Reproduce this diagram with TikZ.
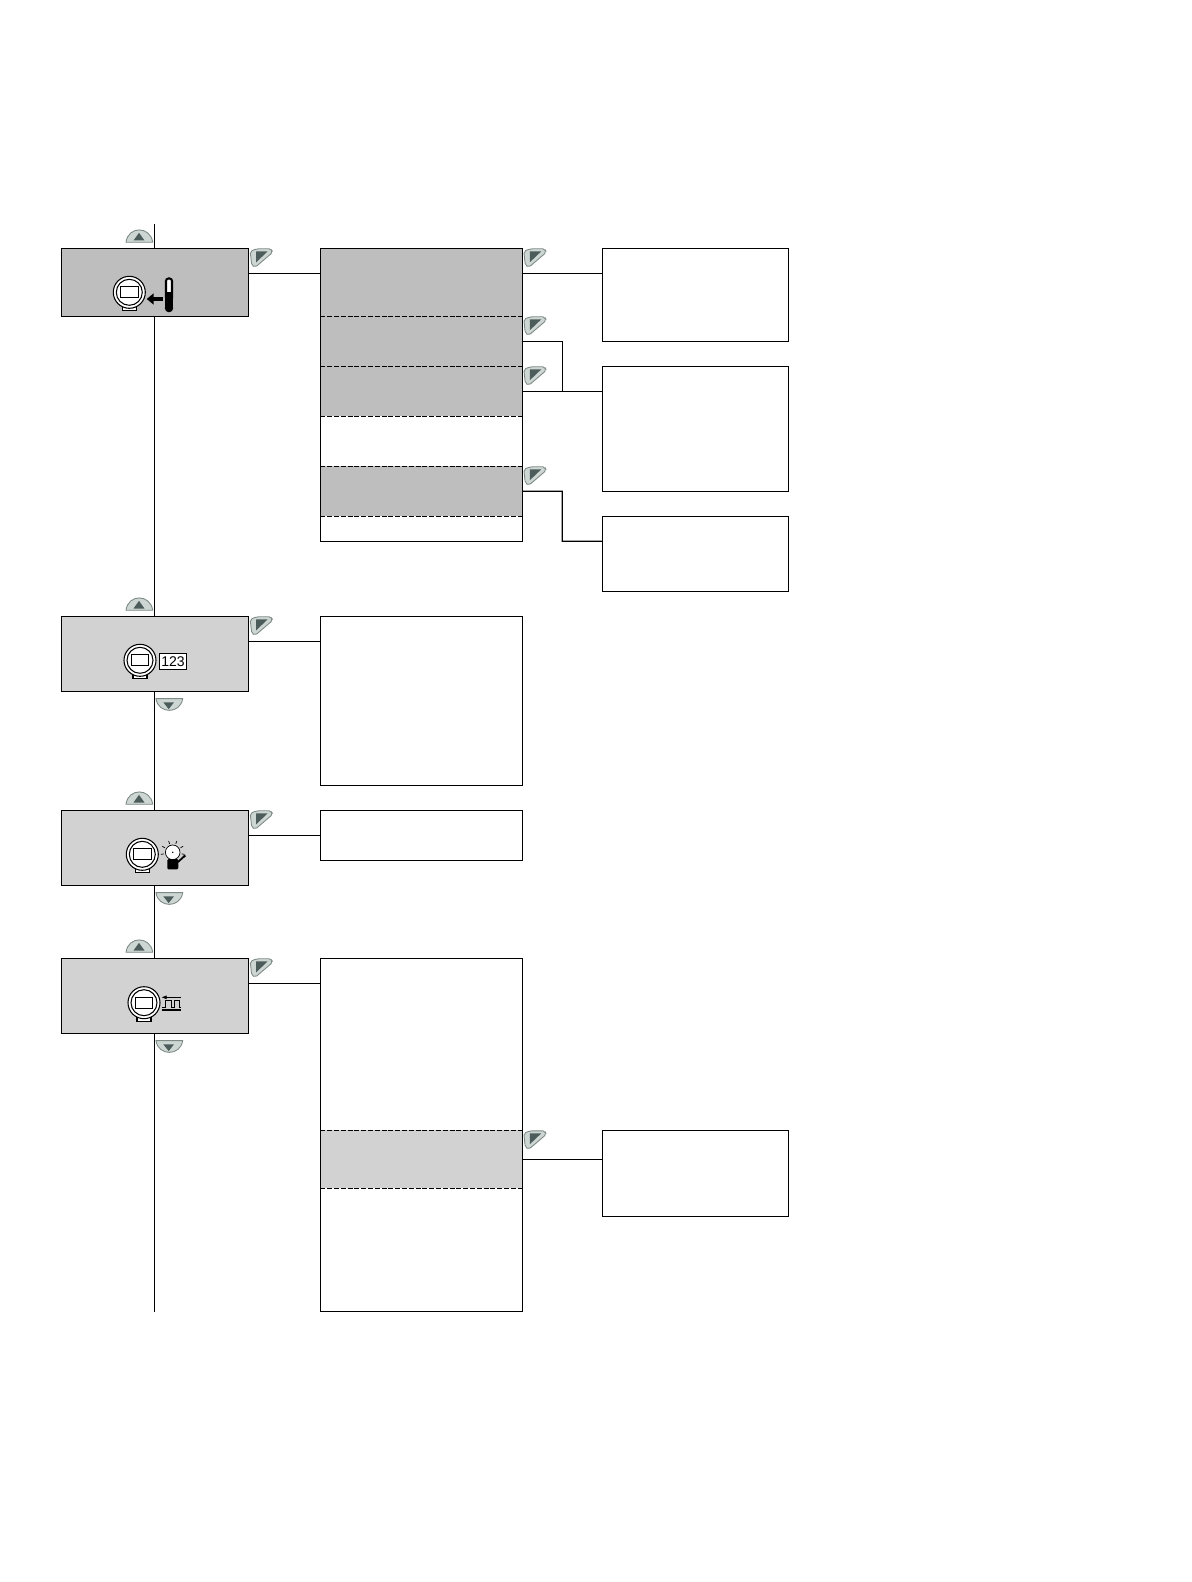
\documentclass[tikz,border=0pt]{standalone}
\usepackage{fontspec}
\usepackage{xcolor}
\setmainfont{Liberation Sans}
\usetikzlibrary{arrows.meta}
\definecolor{paneldark}{RGB}{190, 190, 190}
\definecolor{panellight}{RGB}{210, 210, 210}
\definecolor{keyshell}{RGB}{205, 214, 210}
\definecolor{keyedge}{RGB}{125, 138, 134}
\definecolor{keymark}{RGB}{76, 92, 90}

\tikzset{
    panel/.style n args={2}{draw=none, anchor=north west, inner sep=0pt, outer sep=0pt,
        minimum width=#1cm, minimum height=#2cm},
    box/.style={panel={#1}, draw=black},
    keyup/.pic={
        \fill[keyshell, draw=keyedge, line width=0.25pt]
            (-.29,.06) .. controls (-.27,.225) and (-.045,.225) .. (-.023,.06) -- cycle;
        \fill[keymark] (-.215,.078) -- (-.105,.078) -- (-.16,.155) -- cycle;
    },
    keydown/.pic={
        \fill[keyshell, draw=keyedge, line width=0.25pt]
            (.01,-.073) .. controls (.03,-.23) and (.255,-.23) .. (.277,-.073) -- cycle;
        \fill[keymark] (.083,-.11) -- (.19,-.11) -- (.137,-.178) -- cycle;
    },
    keyenter/.pic={
        \fill[keyshell, draw=keyedge, line width=0.25pt, rounded corners=.02cm]
            (.015,-.03) -- (.08,-.005) -- (.225,-.005) -- (.24,-.04) -- (.065,-.19) -- (.03,-.17) -- cycle;
        \fill[keymark] (.075,-.03) -- (.19,-.03) -- (.075,-.14) -- cycle;
    },
    device/.pic={
        \draw[fill=white, line width=0.3pt] (-.07,-.14) rectangle (.07,-.185);
        \draw[fill=white, line width=0.3pt] (0,0) circle (.16);
        \draw[line width=0.3pt] (0,0) circle (.13);
        \draw[line width=0.3pt] (-.088,-.054) rectangle (.088,.054);
    }
}

\begin{document}
\begin{tikzpicture}[
    wire/.style={line width=0.32pt},
    dashrule/.style={line width=0.3pt, dash pattern=on .05cm off .018cm}
]
    \useasboundingbox (0,0) rectangle (11.91,-15.82);

    % ==========================================
    % COORDINATES
    % ==========================================
    % Spine
    \coordinate (spine_top) at (1.543,-2.24);
    \coordinate (spine_bot) at (1.543,-13.12);

    % Bends between menu and detail boxes
    \coordinate (join_pair) at (5.623,-3.913);
    \coordinate (bend_low)  at (5.623,-4.913);

    % ==========================================
    % SPINE (behind the boxes)
    % ==========================================
    \draw[wire] (spine_top) -- (spine_bot);

    % ==========================================
    % LEFT COLUMN
    % ==========================================
    \node[box={1.874}{.68}, fill=paneldark]  (temp)  at (.613,-2.483) {};
    \node[box={1.874}{.75}, fill=panellight] (count) at (.613,-6.163) {};
    \node[box={1.874}{.75}, fill=panellight] (alarm) at (.613,-8.103) {};
    \node[box={1.874}{.75}, fill=panellight] (pulse) at (.613,-9.583) {};

    % ==========================================
    % MIDDLE COLUMN
    % ==========================================
    % Temperature rows
    \node[panel={2.02}{.68}, fill=paneldark] (row_a) at (3.203,-2.483) {};
    \node[panel={2.02}{.50}, fill=paneldark] (row_b) at (3.203,-3.163) {};
    \node[panel={2.02}{.50}, fill=paneldark] (row_c) at (3.203,-3.663) {};
    \node[panel={2.02}{.50}]                 (row_d) at (3.203,-4.163) {};
    \node[panel={2.02}{.50}, fill=paneldark] (row_e) at (3.203,-4.663) {};
    \node[box={2.02}{2.93}] (temp_menu) at (3.203,-2.483) {};
    \draw[dashrule] (row_a.south west) -- (row_a.south east);
    \draw[dashrule] (row_b.south west) -- (row_b.south east);
    \draw[dashrule] (row_c.south west) -- (row_c.south east);
    \draw[dashrule] (row_d.south west) -- (row_d.south east);
    \draw[dashrule] (row_e.south west) -- (row_e.south east);

    \node[box={2.02}{1.69}] (count_menu) at (3.203,-6.163) {};
    \node[box={2.02}{.50}]  (alarm_menu) at (3.203,-8.103) {};

    % Pulse rows
    \node[panel={2.02}{.58}, fill=panellight] (row_f) at (3.203,-11.303) {};
    \node[box={2.02}{3.53}] (pulse_menu) at (3.203,-9.583) {};
    \draw[dashrule] (row_f.north west) -- (row_f.north east);
    \draw[dashrule] (row_f.south west) -- (row_f.south east);

    % ==========================================
    % RIGHT COLUMN
    % ==========================================
    \node[box={1.862}{.93}]  (detail_a) at (6.023,-2.483) {};
    \node[box={1.862}{1.25}] (detail_b) at (6.023,-3.663) {};
    \node[box={1.862}{.75}]  (detail_c) at (6.023,-5.163) {};
    \node[box={1.862}{.862}] (detail_d) at (6.023,-11.303) {};

    % ==========================================
    % CONNECTORS
    % ==========================================
    \draw[wire] ([yshift=-.25cm]temp.north east)  -- ([yshift=-.25cm]temp_menu.north west);
    \draw[wire] ([yshift=-.25cm]count.north east) -- ([yshift=-.25cm]count_menu.north west);
    \draw[wire] ([yshift=-.25cm]alarm.north east) -- ([yshift=-.25cm]alarm_menu.north west);
    \draw[wire] ([yshift=-.25cm]pulse.north east) -- ([yshift=-.25cm]pulse_menu.north west);

    \draw[wire] ([yshift=-.25cm]row_a.north east) -- ([yshift=-.25cm]detail_a.north west);
    \draw[wire] ([yshift=-.25cm]row_b.north east) -| (join_pair);
    \draw[wire] ([yshift=-.25cm]row_c.north east) -- ([yshift=-.25cm]detail_b.north west);
    \draw[wire] ([yshift=-.25cm]row_e.north east) -- (bend_low) |- ([yshift=-.25cm]detail_c.north west);
    \draw[wire] ([yshift=-.29cm]row_f.north east) -- ([yshift=-.29cm]detail_d.north west);

    % ==========================================
    % KEYS
    % ==========================================
    \pic at (temp.north)  {keyup};
    \pic at (count.north) {keyup};
    \pic at (alarm.north) {keyup};
    \pic at (pulse.north) {keyup};

    \pic at (count.south) {keydown};
    \pic at (alarm.south) {keydown};
    \pic at (pulse.south) {keydown};

    \pic at (temp.north east)  {keyenter};
    \pic at (count.north east) {keyenter};
    \pic at (alarm.north east) {keyenter};
    \pic at (pulse.north east) {keyenter};
    \pic at (row_a.north east) {keyenter};
    \pic at (row_b.north east) {keyenter};
    \pic at (row_c.north east) {keyenter};
    \pic at (row_e.north east) {keyenter};
    \pic at (row_f.north east) {keyenter};

    % ==========================================
    % ICONS
    % ==========================================
    \pic at (1.293,-2.923) {device};
    \pic at (1.40,-6.603)  {device};
    \pic at (1.423,-8.543) {device};
    \pic at (1.44,-10.027) {device};

    % Thermometer and arrow
    \draw[line width=0.6pt, fill=white, rounded corners=.025cm] (1.66,-3.0) rectangle (1.72,-2.785);
    \fill[black] (1.652,-2.92) rectangle (1.728,-3.08);
    \fill[black] (1.69,-3.081) circle (.042);
    \draw[line width=.95pt, -{Triangle[length=.07cm,width=.11cm]}] (1.633,-2.99) -- (1.467,-2.99);

    % Number tag
    \node[draw=black, fill=white, line width=0.3pt, inner sep=0pt, outer sep=0pt,
        minimum width=.273cm, minimum height=.16cm, font=\fontsize{4}{4}\selectfont]
        (count_tag) at (1.73,-6.613) {123};

    % Bell
    \draw[line width=0.2pt, fill=white] (1.727,-8.523) circle (.073);
    \fill (1.727,-8.523) circle (.008);
    \foreach \ang in {-10,30,70,110,150,190}
        \draw[line width=0.2pt] (1.727,-8.523) ++(\ang:.09) -- ++(\ang:.03);
    \fill[black, rounded corners=.012cm] (1.673,-8.59) rectangle (1.783,-8.693);
    \draw[line width=.5pt] (1.78,-8.62) -- (1.84,-8.565);
    \fill (1.845,-8.56) circle (.015);

    % Pulse train
    \draw[line width=0.25pt, -{Triangle[length=.05cm,width=.035cm]}] (1.81,-9.973) -- (1.617,-9.973);
    \draw[line width=0.28pt] (1.617,-10.073) -- (1.65,-10.073) -- (1.65,-10.007) -- (1.71,-10.007)
        -- (1.71,-10.073) -- (1.74,-10.073) -- (1.74,-10.007) -- (1.793,-10.007) -- (1.793,-10.073) -- (1.81,-10.073);
    \draw[line width=.45pt] (1.617,-10.097) -- (1.81,-10.097);
\end{tikzpicture}
\end{document}
